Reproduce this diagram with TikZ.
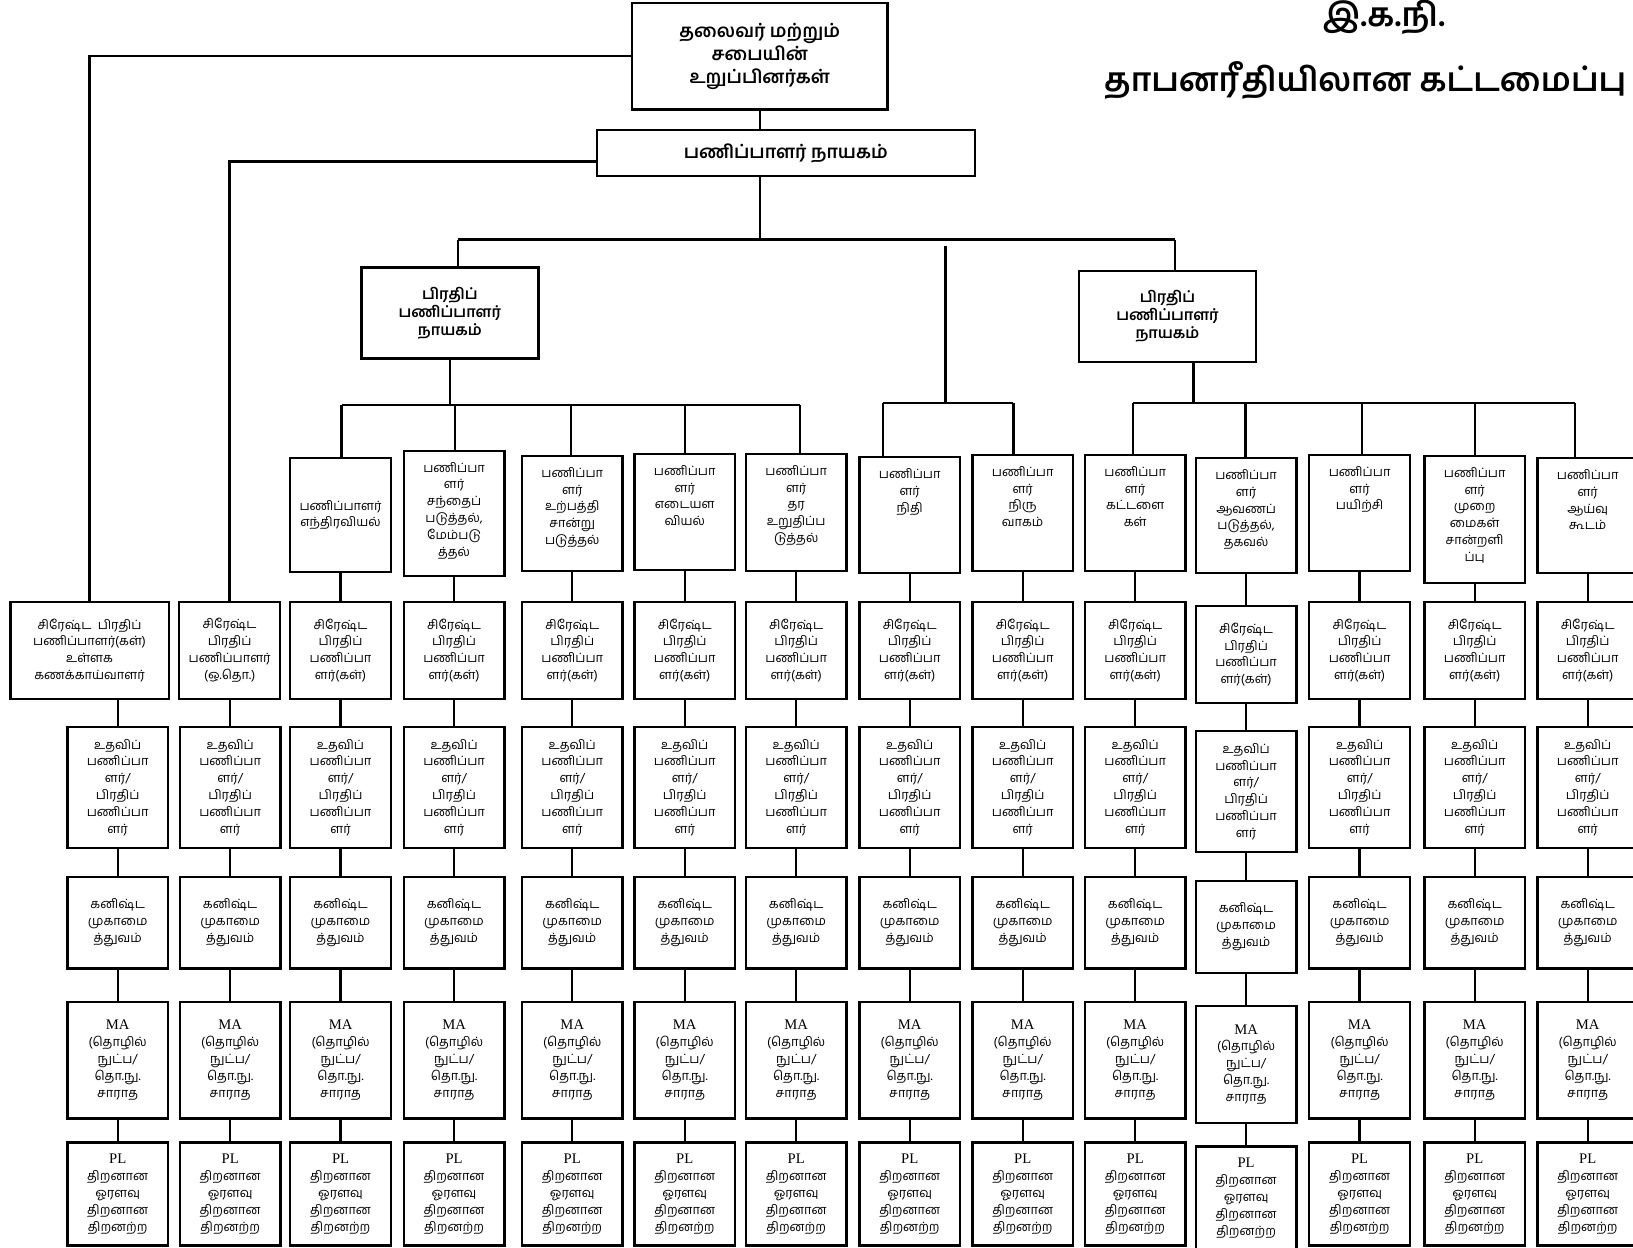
\documentclass[tikz,border=0pt]{standalone}
\usepackage{fontspec}
\setmainfont[Script=Tamil]{Hind Madurai}
\newfontfamily\latinserif{Liberation Serif}
\tikzstyle{line} = [draw, line width=1.9pt]
\tikzstyle{titletext} = [font=\fontsize{27}{32}\selectfont\bfseries, inner sep=0pt]
\tikzstyle{headbox} = [rectangle, draw, line width=2pt, align=center,
    font=\fontsize{15}{18.7}\selectfont\bfseries]
\tikzstyle{deputy} = [rectangle, draw, line width=2pt, align=center,
    minimum width=51mm, minimum height=26.3mm, font=\fontsize{12.5}{14.8}\selectfont\bfseries]
\tikzstyle{deptbox} = [rectangle, draw, line width=1.9pt, minimum width=29mm,
    inner sep=1mm, font=\fontsize{10.5}{13.8}\selectfont]
\tikzstyle{rankbox} = [rectangle, draw, line width=1.9pt, align=center,
    minimum width=29mm, inner sep=1pt, font=\fontsize{10.5}{13.8}\selectfont]
\tikzstyle{rowS} = [minimum height=27.9mm]
\tikzstyle{rowU} = [minimum height=34.8mm]
\tikzstyle{rowK} = [minimum height=26.4mm]
\tikzstyle{rowM} = [minimum height=33.6mm]
\tikzstyle{rowP} = [minimum height=29.7mm]
\newcommand{\dtext}[2]{\parbox[c][#1][t]{27mm}{\centering\vspace*{2.2mm}#2}}
\begin{document}
\begin{tikzpicture}[x=0.3mm, y=-0.3mm]
    \useasboundingbox (0,0) rectangle (1568,1198);
    % Place nodes
    \node [titletext] (ttlA) at (1329,17) {இ.க.நி.};
    \node [titletext, anchor=west] (ttlB) at (1060,77) {தாபனரீதியிலான கட்டமைப்பு};
    \node [headbox, minimum width=73.5mm, minimum height=30.6mm] (chair) at (729.5,54) {தலைவர் மற்றும்\\சபையின்\\உறுப்பினர்கள்};
    \node [headbox, minimum width=108.9mm, minimum height=13.2mm] (dg) at (754.5,147) {பணிப்பாளர் நாயகம்};
    \node [deputy] (ddgA) at (432,300.5) {பிரதிப்\\பணிப்பாளர்\\நாயகம்};
    \node [deputy] (ddgB) at (1121,304) {பிரதிப்\\பணிப்பாளர்\\நாயகம்};
    % departments
    \node [deptbox, align=center, minimum height=32.7mm] (d1) at (327,494.5) {பணிப்பாளர்\\எந்திரவியல்};
    \node [deptbox] (d2) at (436,493) {\dtext{34mm}{பணிப்பா\\ளர்\\சந்தைப்\\படுத்தல்,\\மேம்படு\\த்தல்}};
    \node [deptbox] (d3) at (549.5,493) {\dtext{31mm}{பணிப்பா\\ளர்\\உற்பத்தி\\சான்று\\படுத்தல்}};
    \node [deptbox] (d4) at (657.5,491.5) {\dtext{31.3mm}{பணிப்பா\\ளர்\\எடையள\\வியல்}};
    \node [deptbox] (d5) at (764.5,492) {\dtext{31.6mm}{பணிப்பா\\ளர்\\தர\\உறுதிப்ப\\டுத்தல்}};
    \node [deptbox] (d6) at (873.5,494.5) {\dtext{31.3mm}{பணிப்பா\\ளர்\\நிதி}};
    \node [deptbox] (d7) at (982,492.5) {\dtext{31.3mm}{பணிப்பா\\ளர்\\நிரு\\வாகம்}};
    \node [deptbox] (d8) at (1090,492.5) {\dtext{31.3mm}{பணிப்பா\\ளர்\\கட்டளை\\கள்}};
    \node [deptbox] (d9) at (1196.5,495) {\dtext{31mm}{பணிப்பா\\ளர்\\ஆவணப்\\படுத்தல்,\\தகவல்}};
    \node [deptbox] (d10) at (1305.5,492.5) {\dtext{31.3mm}{பணிப்பா\\ளர்\\பயிற்சி}};
    \node [deptbox] (d11) at (1416,499) {\dtext{34.6mm}{பணிப்பா\\ளர்\\முறை\\மைகள்\\சான்றளி\\ப்பு}};
    \node [deptbox] (d12) at (1524.5,495) {\dtext{31mm}{பணிப்பா\\ளர்\\ஆய்வு\\கூடம்}};
    % senior deputies
    \node [rankbox, rowS, minimum width=45.6mm] (sA) at (86,624.5) {சிரேஷ்ட~~பிரதிப்\\பணிப்பாளர்(கள்)\\உள்ளக\\கணக்காய்வாளர்};
    \node [rankbox, rowS] (sB) at (220.5,624.5) {சிரேஷ்ட\\பிரதிப்\\பணிப்பாளர்\\(ஒ.தொ.)};
    \foreach \c/\x/\dy in {1/327/0,2/436/0,3/549.5/0,4/657.5/0,5/764.5/0,6/873.5/0,7/982/0,8/1090/0,9/1196.5/4,10/1305.5/0,11/1416/0,12/1524.5/0}
        \node [rankbox, rowS] (s\c) at (\x,624.5+\dy) {சிரேஷ்ட\\பிரதிப்\\பணிப்பா\\ளர்(கள்)};
    % lower ranks
    \foreach \c/\x/\dy in {A/113/0,B/221/0,1/327/0,2/436/0,3/549.5/0,4/657.5/0,5/764.5/0,6/873.5/0,7/982/0,8/1090/0,9/1196.5/4,10/1305.5/0,11/1416/0,12/1524.5/0}{
        \node [rankbox, rowU] (u\c) at (\x,756+\dy) {உதவிப்\\பணிப்பா\\ளர்/\\பிரதிப்\\பணிப்பா\\ளர்};
        \node [rankbox, rowK] (k\c) at (\x,886+\dy) {கனிஷ்ட\\முகாமை\\த்துவம்};
        \node [rankbox, rowM] (m\c) at (\x,1018+\dy) {{\latinserif\fontsize{12}{13.8}\selectfont MA}\\(தொழில்\\நுட்ப/\\தொ.நு.\\சாராத};
        \node [rankbox, rowP] (p\c) at (\x,1146.5+\dy) {{\latinserif\fontsize{12}{13.8}\selectfont PL}\\திறனான\\ஓரளவு\\திறனான\\திறனற்ற};
    }
    % Draw edges
    \path [line] (chair.south) -- (chair.south |- dg.north);
    \path [line] (chair.west) -| (sA.north);
    \path [line] ([yshift=-2.4mm]dg.west) -| (sB.north);
    \coordinate (busL) at (440,230);
    \coordinate (busR) at (1128,230);
    \path [line] (busL) -- (busR);
    \path [line] (dg.south -| chair.south) -- (busL -| chair.south);
    \path [line] (busL) -- (busL |- ddgA.north);
    \path [line] (busR) -- (busR |- ddgB.north);
    % middle branch
    \coordinate (midTop) at (908,236);
    \coordinate (b6) at (848,387);
    \coordinate (b7) at (973,387);
    \path [line] (midTop) -- (midTop |- b6);
    \path [line] (b6) -- (b7);
    \path [line] (b6) -- (b6 |- d6.north);
    \path [line] (b7) -- (b7 |- d7.north);
    % left group
    \coordinate (b1) at (328,389);
    \coordinate (b2) at (437,389);
    \coordinate (b3) at (548,389);
    \coordinate (b4) at (658,389);
    \coordinate (b5) at (768,389);
    \path [line] (b1) -- (b5);
    \path [line] (ddgA.south) -- (ddgA.south |- b1);
    % right group
    \coordinate (b8) at (1088,387);
    \coordinate (b9) at (1196,387);
    \coordinate (b10) at (1308,387);
    \coordinate (b11) at (1416,387);
    \coordinate (b12) at (1512,387);
    \coordinate (ddgBfoot) at ([xshift=7.5mm]ddgB.south);
    \path [line] (b8) -- (b12);
    \path [line] (ddgBfoot) -- (ddgBfoot |- b8);
    \foreach \n in {1,2,3,4,5,8,9,10,11,12}
        \path [line] (b\n) -- (b\n |- d\n.north);
    \foreach \n in {1,...,12}
        \path [line] (d\n.south -| s\n.north) -- (s\n.north);
    \foreach \c in {A,B,1,2,3,4,5,6,7,8,9,10,11,12}{
        \path [line] (u\c.north |- s\c.south) -- (u\c.north);
        \path [line] (k\c.north |- u\c.south) -- (k\c.north);
        \path [line] (m\c.north |- k\c.south) -- (m\c.north);
        \path [line] (p\c.north |- m\c.south) -- (p\c.north);
    }
\end{tikzpicture}
\end{document}
